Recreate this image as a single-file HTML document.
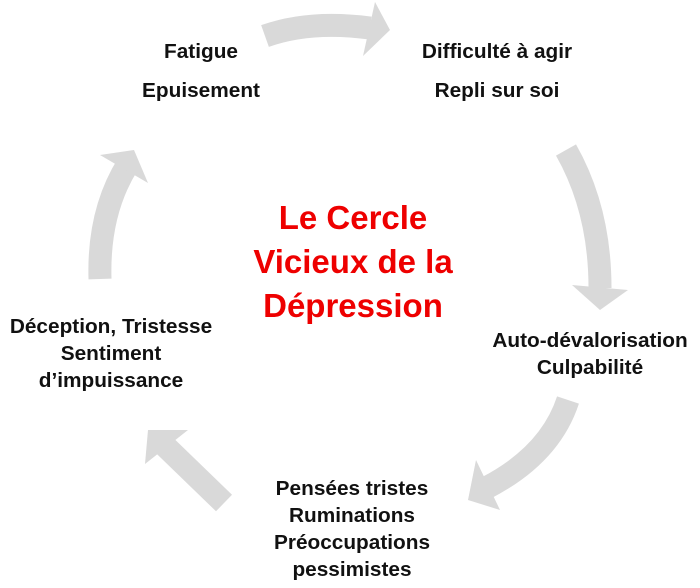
<!DOCTYPE html>
<html><head><meta charset="utf-8"><style>
html,body{margin:0;padding:0;background:#fff;}
#c{position:relative;width:700px;height:588px;overflow:hidden;}
.t{position:absolute;font-family:"Liberation Sans",sans-serif;font-weight:bold;font-size:20px;color:#111;text-align:center;white-space:nowrap;transform:translateX(-50%) scaleX(1.04);line-height:27px;}
.r{position:absolute;font-family:"Liberation Sans",sans-serif;font-weight:bold;font-size:33px;color:#ee0000;text-align:center;white-space:nowrap;transform:translateX(-50%);line-height:44px;}
svg{position:absolute;left:0;top:0;}
</style></head><body><div id="c">
<svg width="700" height="588" viewBox="0 0 700 588">
<g fill="none" stroke="#d9d9d9" stroke-width="23">
<path d="M265 36 Q310 20 370 28"/>
<path d="M566 150 Q600 210 600 288"/>
<path d="M568 400 Q550 455 486 488"/>
<path d="M224 503 Q195 475 162 443"/>
<path d="M100 279 Q98 212 128 164"/>
</g>
<g fill="#d9d9d9">
<polygon points="375,2 390,30 363,56"/>
<polygon points="572,285 628,290 600,310"/>
<polygon points="476,460 500,510 468,500"/>
<polygon points="188,430 148,430 145,464"/>
<polygon points="100,155 148,183 134,150"/>
</g>
</svg>
<div class="t" style="left:201px;top:39px;">Fatigue</div>
<div class="t" style="left:201px;top:78px;">Epuisement</div>
<div class="t" style="left:497px;top:39px;">Difficulté à agir</div>
<div class="t" style="left:497px;top:78px;">Repli sur soi</div>
<div class="r" style="left:353px;top:196px;">Le Cercle<br>Vicieux de la<br>Dépression</div>
<div class="t" style="left:111px;top:314px;">Déception, Tristesse<br>Sentiment<br>d’impuissance</div>
<div class="t" style="left:590px;top:328px;">Auto-dévalorisation<br>Culpabilité</div>
<div class="t" style="left:352px;top:476px;">Pensées tristes<br>Ruminations<br>Préoccupations<br>pessimistes</div>
</div></body></html>
